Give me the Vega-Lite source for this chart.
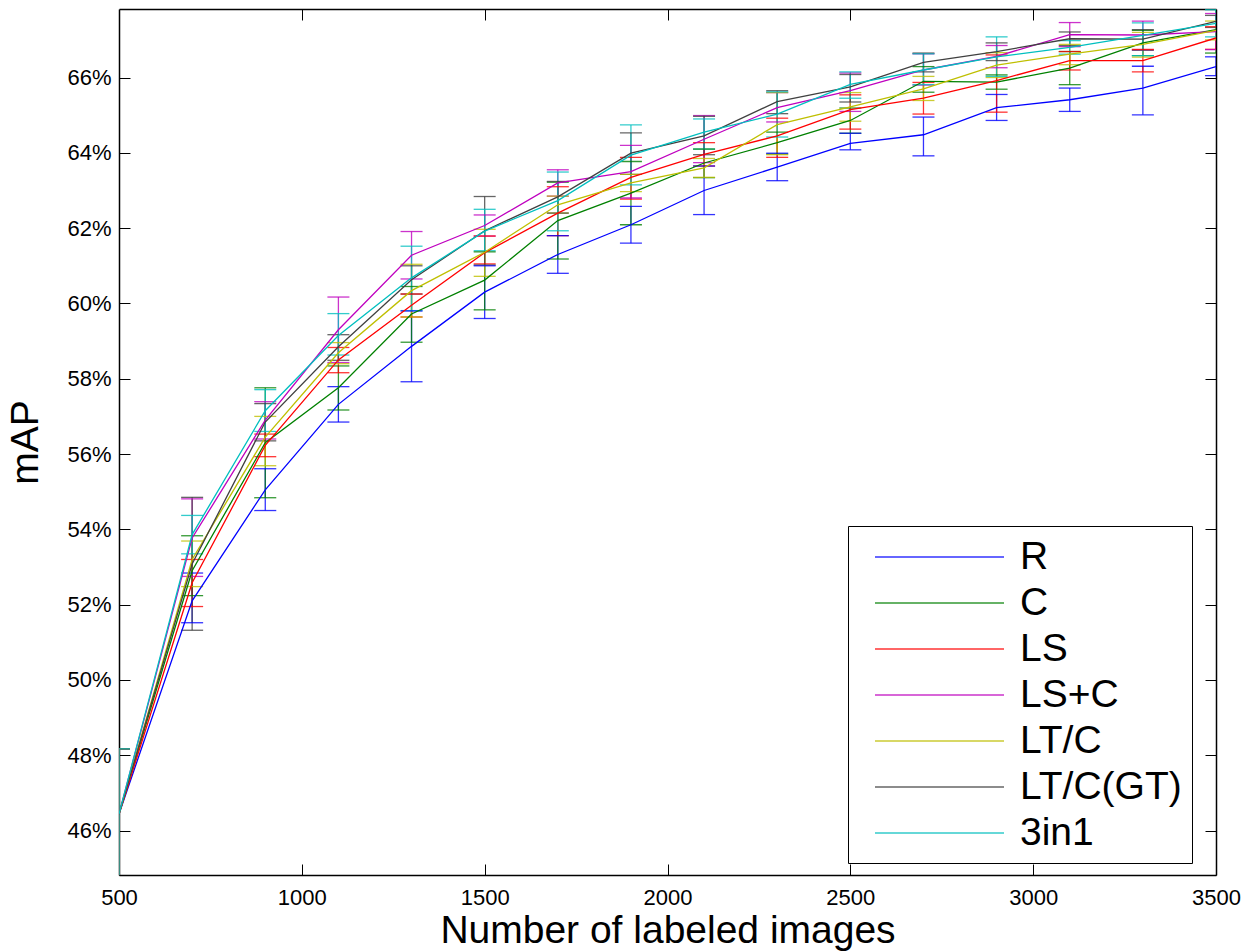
{
  "$schema": "https://vega.github.io/schema/vega-lite/v6.json",
  "width": 1097,
  "height": 866,
  "autosize": {"type": "none"},
  "padding": {"left": 119, "top": 9, "right": 31, "bottom": 76},
  "background": "white",
  "config": {
    "view": {"stroke": null},
    "font": "Liberation Sans",
    "axis": {
      "grid": false,
      "domainColor": "black",
      "domainWidth": 1.5,
      "tickColor": "black",
      "tickWidth": 1,
      "tickSize": -11,
      "labelColor": "black",
      "labelFont": "Liberation Sans",
      "labelFontSize": 22,
      "titleColor": "black",
      "titleFont": "Liberation Sans",
      "titleFontSize": 39,
      "titleFontWeight": "normal"
    }
  },
  "data": {
    "values": [
      {"s": "R", "n": 500, "m": 46.44, "lo": 44.7, "hi": 48.17},
      {"s": "R", "n": 700, "m": 52.1, "lo": 51.52, "hi": 52.84},
      {"s": "R", "n": 900, "m": 55.05, "lo": 54.5, "hi": 55.61},
      {"s": "R", "n": 1100, "m": 57.32, "lo": 56.85, "hi": 57.79},
      {"s": "R", "n": 1300, "m": 58.86, "lo": 57.92, "hi": 59.8},
      {"s": "R", "n": 1500, "m": 60.3, "lo": 59.6, "hi": 61.0},
      {"s": "R", "n": 1700, "m": 61.3, "lo": 60.8, "hi": 61.8},
      {"s": "R", "n": 1900, "m": 62.09, "lo": 61.6, "hi": 62.58},
      {"s": "R", "n": 2100, "m": 63.0, "lo": 62.36, "hi": 63.65},
      {"s": "R", "n": 2300, "m": 63.62, "lo": 63.26, "hi": 63.99},
      {"s": "R", "n": 2500, "m": 64.25, "lo": 64.08, "hi": 64.52},
      {"s": "R", "n": 2700, "m": 64.48, "lo": 63.92, "hi": 64.95},
      {"s": "R", "n": 2900, "m": 65.2, "lo": 64.86, "hi": 65.55},
      {"s": "R", "n": 3100, "m": 65.41, "lo": 65.1, "hi": 65.72},
      {"s": "R", "n": 3300, "m": 65.72, "lo": 65.01, "hi": 66.3},
      {"s": "R", "n": 3500, "m": 66.29, "lo": 66.05, "hi": 66.55},

      {"s": "C", "n": 500, "m": 46.44, "lo": 44.7, "hi": 48.17},
      {"s": "C", "n": 700, "m": 52.9, "lo": 52.24, "hi": 53.83},
      {"s": "C", "n": 900, "m": 56.3, "lo": 54.84, "hi": 57.76},
      {"s": "C", "n": 1100, "m": 57.76, "lo": 57.17, "hi": 58.34},
      {"s": "C", "n": 1300, "m": 59.72, "lo": 58.97, "hi": 60.45},
      {"s": "C", "n": 1500, "m": 60.62, "lo": 59.83, "hi": 61.37},
      {"s": "C", "n": 1700, "m": 62.2, "lo": 61.18, "hi": 63.22},
      {"s": "C", "n": 1900, "m": 62.93, "lo": 62.09, "hi": 63.77},
      {"s": "C", "n": 2100, "m": 63.73, "lo": 63.34, "hi": 64.1},
      {"s": "C", "n": 2300, "m": 64.27, "lo": 63.97, "hi": 64.55},
      {"s": "C", "n": 2500, "m": 64.86, "lo": 64.52, "hi": 65.19},
      {"s": "C", "n": 2700, "m": 65.9, "lo": 65.61, "hi": 66.29},
      {"s": "C", "n": 2900, "m": 65.88, "lo": 65.69, "hi": 66.07},
      {"s": "C", "n": 3100, "m": 66.25, "lo": 65.81, "hi": 66.69},
      {"s": "C", "n": 3300, "m": 66.92, "lo": 66.58, "hi": 67.25},
      {"s": "C", "n": 3500, "m": 67.27, "lo": 66.65, "hi": 67.9},

      {"s": "LS", "n": 500, "m": 46.44, "lo": 44.7, "hi": 48.17},
      {"s": "LS", "n": 700, "m": 52.58, "lo": 51.95, "hi": 53.2},
      {"s": "LS", "n": 900, "m": 56.23, "lo": 55.93, "hi": 56.53},
      {"s": "LS", "n": 1100, "m": 58.5, "lo": 58.16, "hi": 58.83},
      {"s": "LS", "n": 1300, "m": 59.95, "lo": 59.64, "hi": 60.25},
      {"s": "LS", "n": 1500, "m": 61.35, "lo": 61.05, "hi": 61.79},
      {"s": "LS", "n": 1700, "m": 62.4, "lo": 61.8, "hi": 63.1},
      {"s": "LS", "n": 1900, "m": 63.35, "lo": 62.77, "hi": 63.88},
      {"s": "LS", "n": 2100, "m": 63.96, "lo": 63.65, "hi": 64.27},
      {"s": "LS", "n": 2300, "m": 64.45, "lo": 63.88, "hi": 64.92},
      {"s": "LS", "n": 2500, "m": 65.15, "lo": 64.63, "hi": 65.54},
      {"s": "LS", "n": 2700, "m": 65.45, "lo": 65.03, "hi": 65.87},
      {"s": "LS", "n": 2900, "m": 65.92, "lo": 65.08, "hi": 66.6},
      {"s": "LS", "n": 3100, "m": 66.45, "lo": 66.2, "hi": 66.69},
      {"s": "LS", "n": 3300, "m": 66.45, "lo": 66.15, "hi": 66.75},
      {"s": "LS", "n": 3500, "m": 67.05, "lo": 66.75, "hi": 67.35},

      {"s": "LS+C", "n": 500, "m": 46.44, "lo": 44.7, "hi": 48.17},
      {"s": "LS+C", "n": 700, "m": 53.77, "lo": 52.75, "hi": 54.81},
      {"s": "LS+C", "n": 900, "m": 56.9, "lo": 56.4, "hi": 57.39},
      {"s": "LS+C", "n": 1100, "m": 59.3, "lo": 58.43, "hi": 60.17},
      {"s": "LS+C", "n": 1300, "m": 61.28, "lo": 60.65, "hi": 61.91},
      {"s": "LS+C", "n": 1500, "m": 62.07, "lo": 61.79, "hi": 62.35},
      {"s": "LS+C", "n": 1700, "m": 63.2, "lo": 62.85, "hi": 63.55},
      {"s": "LS+C", "n": 1900, "m": 63.5, "lo": 62.8, "hi": 64.2},
      {"s": "LS+C", "n": 2100, "m": 64.36, "lo": 63.74, "hi": 64.99},
      {"s": "LS+C", "n": 2300, "m": 65.2, "lo": 64.82, "hi": 65.6},
      {"s": "LS+C", "n": 2500, "m": 65.65, "lo": 65.1, "hi": 66.12},
      {"s": "LS+C", "n": 2700, "m": 66.2, "lo": 65.8, "hi": 66.63},
      {"s": "LS+C", "n": 2900, "m": 66.56, "lo": 66.26, "hi": 66.85},
      {"s": "LS+C", "n": 3100, "m": 67.14, "lo": 66.82, "hi": 67.46},
      {"s": "LS+C", "n": 3300, "m": 67.13, "lo": 66.73, "hi": 67.5},
      {"s": "LS+C", "n": 3500, "m": 67.22, "lo": 66.74, "hi": 67.7},

      {"s": "LT/C", "n": 500, "m": 46.44, "lo": 44.7, "hi": 48.17},
      {"s": "LT/C", "n": 700, "m": 53.2, "lo": 52.48, "hi": 53.69},
      {"s": "LT/C", "n": 900, "m": 56.45, "lo": 55.69, "hi": 57.0},
      {"s": "LT/C", "n": 1100, "m": 58.69, "lo": 58.4, "hi": 58.96},
      {"s": "LT/C", "n": 1300, "m": 60.34, "lo": 59.64, "hi": 61.04},
      {"s": "LT/C", "n": 1500, "m": 61.36, "lo": 60.72, "hi": 61.97},
      {"s": "LT/C", "n": 1700, "m": 62.62, "lo": 62.4, "hi": 62.85},
      {"s": "LT/C", "n": 1900, "m": 63.2, "lo": 62.97, "hi": 63.43},
      {"s": "LT/C", "n": 2100, "m": 63.6, "lo": 63.35, "hi": 63.85},
      {"s": "LT/C", "n": 2300, "m": 64.75, "lo": 63.95, "hi": 65.6},
      {"s": "LT/C", "n": 2500, "m": 65.22, "lo": 64.84, "hi": 65.6},
      {"s": "LT/C", "n": 2700, "m": 65.7, "lo": 65.39, "hi": 66.03},
      {"s": "LT/C", "n": 2900, "m": 66.33, "lo": 66.0, "hi": 66.66},
      {"s": "LT/C", "n": 3100, "m": 66.62, "lo": 66.34, "hi": 66.88},
      {"s": "LT/C", "n": 3300, "m": 66.88, "lo": 66.54, "hi": 67.2},
      {"s": "LT/C", "n": 3500, "m": 67.25, "lo": 67.0, "hi": 67.5},

      {"s": "LT/C(GT)", "n": 500, "m": 46.44, "lo": 44.7, "hi": 48.17},
      {"s": "LT/C(GT)", "n": 700, "m": 53.08, "lo": 51.32, "hi": 54.85},
      {"s": "LT/C(GT)", "n": 900, "m": 56.85, "lo": 56.35, "hi": 57.34},
      {"s": "LT/C(GT)", "n": 1100, "m": 58.85, "lo": 58.49, "hi": 59.17},
      {"s": "LT/C(GT)", "n": 1300, "m": 60.63, "lo": 60.25, "hi": 61.0},
      {"s": "LT/C(GT)", "n": 1500, "m": 61.93, "lo": 61.02, "hi": 62.84},
      {"s": "LT/C(GT)", "n": 1700, "m": 62.83, "lo": 62.4, "hi": 63.24},
      {"s": "LT/C(GT)", "n": 1900, "m": 63.99, "lo": 63.43, "hi": 64.53},
      {"s": "LT/C(GT)", "n": 2100, "m": 64.45, "lo": 63.95, "hi": 64.97},
      {"s": "LT/C(GT)", "n": 2300, "m": 65.36, "lo": 65.04, "hi": 65.65},
      {"s": "LT/C(GT)", "n": 2500, "m": 65.75, "lo": 65.35, "hi": 66.08},
      {"s": "LT/C(GT)", "n": 2700, "m": 66.4, "lo": 66.15, "hi": 66.65},
      {"s": "LT/C(GT)", "n": 2900, "m": 66.69, "lo": 66.45, "hi": 66.92},
      {"s": "LT/C(GT)", "n": 3100, "m": 67.03, "lo": 66.85, "hi": 67.21},
      {"s": "LT/C(GT)", "n": 3300, "m": 67.02, "lo": 66.73, "hi": 67.27},
      {"s": "LT/C(GT)", "n": 3500, "m": 67.49, "lo": 67.33, "hi": 67.65},

      {"s": "3in1", "n": 500, "m": 46.44, "lo": 44.7, "hi": 48.17},
      {"s": "3in1", "n": 700, "m": 53.86, "lo": 53.35, "hi": 54.37},
      {"s": "3in1", "n": 900, "m": 57.15, "lo": 56.6, "hi": 57.71},
      {"s": "3in1", "n": 1100, "m": 59.15, "lo": 58.63, "hi": 59.73},
      {"s": "3in1", "n": 1300, "m": 60.68, "lo": 59.81, "hi": 61.52},
      {"s": "3in1", "n": 1500, "m": 61.92, "lo": 61.4, "hi": 62.5},
      {"s": "3in1", "n": 1700, "m": 62.73, "lo": 61.93, "hi": 63.49},
      {"s": "3in1", "n": 1900, "m": 63.94, "lo": 63.15, "hi": 64.74},
      {"s": "3in1", "n": 2100, "m": 64.55, "lo": 64.1, "hi": 64.9},
      {"s": "3in1", "n": 2300, "m": 65.03, "lo": 64.42, "hi": 65.62},
      {"s": "3in1", "n": 2500, "m": 65.82, "lo": 65.45, "hi": 66.15},
      {"s": "3in1", "n": 2700, "m": 66.2, "lo": 65.81, "hi": 66.63},
      {"s": "3in1", "n": 2900, "m": 66.55, "lo": 66.03, "hi": 67.08},
      {"s": "3in1", "n": 3100, "m": 66.8, "lo": 66.62, "hi": 66.98},
      {"s": "3in1", "n": 3300, "m": 67.12, "lo": 66.58, "hi": 67.45},
      {"s": "3in1", "n": 3500, "m": 67.44, "lo": 67.08, "hi": 67.8}
    ]
  },
  "layer": [
    {
      "mark": {"type": "rule", "strokeWidth": 1.3, "opacity": 0.8, "clip": true},
      "encoding": {
        "x": {
          "field": "n",
          "type": "quantitative",
          "scale": {"domain": [500, 3500], "nice": false, "zero": false},
          "axis": {
            "orient": "bottom",
            "values": [500, 1000, 1500, 2000, 2500, 3000, 3500],
            "format": "d",
            "labelPadding": 23,
            "labelFlush": false,
            "title": "Number of labeled images",
            "titlePadding": 3
          }
        },
        "y": {
          "field": "lo",
          "type": "quantitative",
          "scale": {"domain": [44.82, 67.82], "nice": false, "zero": false},
          "axis": {
            "orient": "left",
            "values": [46, 48, 50, 52, 54, 56, 58, 60, 62, 64, 66],
            "labelExpr": "datum.value + '%'",
            "labelPadding": 19,
            "title": "mAP",
            "titlePadding": 21
          }
        },
        "y2": {"field": "hi"},
        "color": {
          "field": "s",
          "type": "nominal",
          "scale": {
            "domain": ["R", "C", "LS", "LS+C", "LT/C", "LT/C(GT)", "3in1"],
            "range": ["#0000FF", "#008000", "#FF0000", "#BF00BF", "#BFBF00", "#404040", "#00BFBF"]
          }
        }
      }
    },
    {
      "mark": {"type": "tick", "orient": "horizontal", "size": 22, "thickness": 1.3, "opacity": 0.8, "clip": true},
      "encoding": {
        "x": {"field": "n", "type": "quantitative", "axis": null},
        "y": {"field": "lo", "type": "quantitative", "axis": null},
        "color": {"field": "s", "type": "nominal"}
      }
    },
    {
      "mark": {"type": "tick", "orient": "horizontal", "size": 22, "thickness": 1.3, "opacity": 0.8, "clip": true},
      "encoding": {
        "x": {"field": "n", "type": "quantitative", "axis": null},
        "y": {"field": "hi", "type": "quantitative", "axis": null},
        "color": {"field": "s", "type": "nominal"}
      }
    },
    {
      "mark": {"type": "line", "strokeWidth": 1.3, "clip": true},
      "encoding": {
        "x": {"field": "n", "type": "quantitative", "axis": null},
        "y": {"field": "m", "type": "quantitative", "axis": null},
        "color": {
          "field": "s",
          "type": "nominal",
          "legend": {
            "title": null,
            "orient": "none",
            "legendX": 729,
            "legendY": 517,
            "padding": 10,
            "fillColor": "white",
            "strokeColor": "black",
            "symbolType": "M-0.2,0H6.25",
            "symbolSize": 1600,
            "symbolStrokeWidth": 1.3,
            "symbolOpacity": 1,
            "symbolOffset": 0,
            "labelFont": "Liberation Sans",
            "labelFontSize": 39,
            "labelColor": "black",
            "labelLimit": 400,
            "labelOffset": 120,
            "rowPadding": 5
          }
        }
      }
    },
    {
      "mark": {"type": "point", "opacity": 0},
      "encoding": {
        "x": {
          "field": "n",
          "type": "quantitative",
          "axis": {
            "orient": "top",
            "values": [1000, 1500, 2000, 2500, 3000],
            "labels": false,
            "title": null
          }
        },
        "y": {
          "field": "m",
          "type": "quantitative",
          "axis": {
            "orient": "right",
            "values": [46, 48, 50, 52, 54, 56, 58, 60, 62, 64, 66],
            "labels": false,
            "title": null
          }
        }
      }
    }
  ],
  "resolve": {"axis": {"x": "independent", "y": "independent"}}
}
